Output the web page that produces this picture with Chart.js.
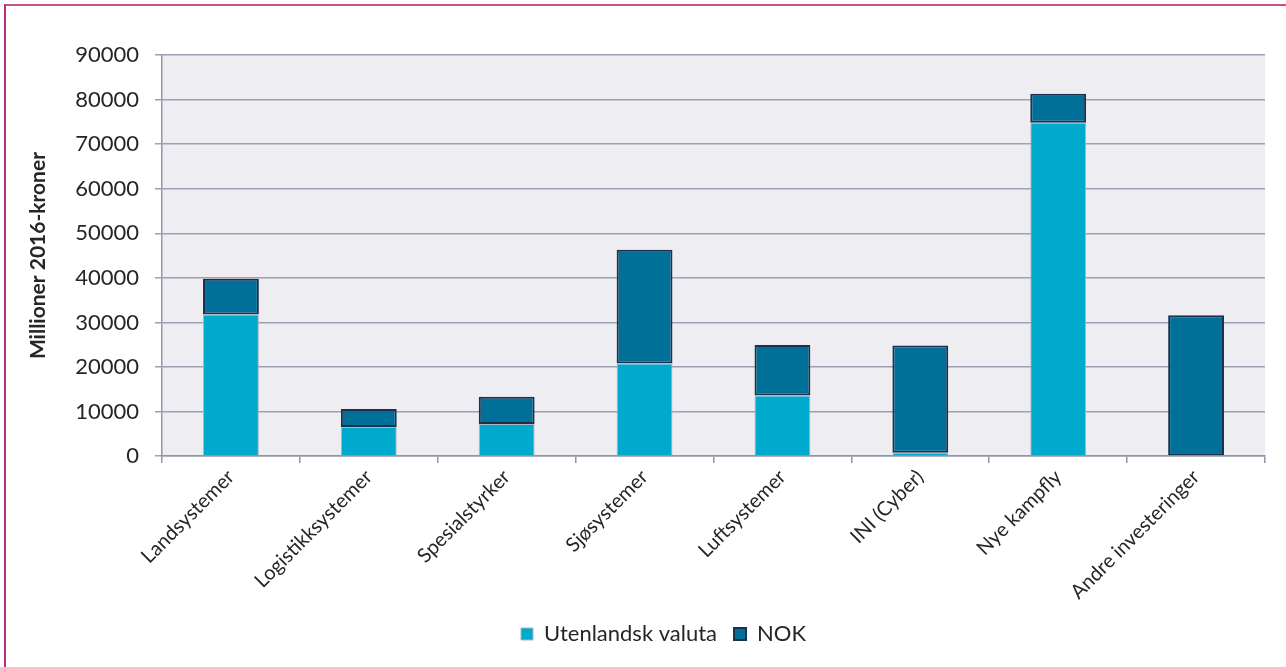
<!DOCTYPE html>
<html>
<head>
<meta charset="utf-8">
<script src="https://cdn.jsdelivr.net/npm/chart.js@4.4.1/dist/chart.umd.min.js"></script>
<style>
  body { margin: 0; background: #fff; }
  #wrap { position: relative; width: 1286px; height: 667px; }
  #frame {
    position: absolute; left: 4px; top: 4px; right: 0; bottom: 0;
    border-top: 2px solid #c8508a; border-left: 2px solid #b8307a;
    pointer-events: none;
  }
</style>
</head>
<body>
<div id="wrap">
  <canvas id="chart"></canvas>
  <div id="frame"></div>
</div>
<script>
const kategorier = ["Landsystemer", "Logistikksystemer", "Spesialstyrker", "Sjøsystemer",
  "Luftsystemer", "INI (Cyber)", "Nye kampfly", "Andre investeringer"];
const utenlandskValuta = [31760, 6550, 7200, 20790, 13580, 740, 74800, 0];
const nok = [8040, 4040, 6140, 25540, 11350, 24100, 6500, 31600];
const yTicks = [0, 10000, 20000, 30000, 40000, 50000, 60000, 70000, 80000, 90000];

const tekstFarge = "#262626";
const font = { family: "Lato", size: 20 };
const stortFont = { family: "Lato", size: 22 };

// grå bakgrunn i selve plottområdet
const plotBakgrunn = {
  id: "plotBakgrunn",
  beforeDraw(chart) {
    const { ctx, chartArea: a } = chart;
    ctx.save();
    ctx.fillStyle = "#eeedf2";
    ctx.fillRect(a.left, a.top, a.right - a.left, a.bottom - a.top);
    ctx.restore();
  }
};

// flytt forklaringen litt mot høyre
const flyttLegend = {
  id: "flyttLegend",
  afterLayout(chart) {
    chart.legend.left += 18;
    chart.legend.right += 18;
  }
};

new Chart(document.getElementById("chart"), {
  type: "bar",
  data: {
    labels: kategorier,
    datasets: [
      {
        label: "Utenlandsk valuta",
        data: utenlandskValuta,
        backgroundColor: "#00aacc",
        borderColor: "#a9b6c6",
        borderWidth: 1,
        stack: "s"
      },
      {
        label: "NOK",
        data: nok,
        backgroundColor: "#007098",
        borderColor: "#1d2f4f",
        borderWidth: 2,
        borderSkipped: false,
        stack: "s"
      }
    ]
  },
  options: {
    responsive: true,
    maintainAspectRatio: false,
    animation: false,
    layout: { padding: { top: 55, right: 21, left: 26, bottom: 12 } },
    datasets: { bar: { barPercentage: 0.405, categoryPercentage: 1 } },
    plugins: {
      tooltip: { enabled: false },
      legend: {
        position: "bottom",
        labels: {
          color: tekstFarge,
          font: stortFont,
          boxWidth: 12,
          boxHeight: 12,
          padding: 17
        }
      }
    },
    scales: {
      x: {
        stacked: true,
        grid: { drawOnChartArea: false, color: "#8f96a8", lineWidth: 1.5, tickLength: 7, offset: true },
        border: { color: "#8f96a8", width: 1.5 },
        ticks: { color: tekstFarge, font: font, maxRotation: 45, minRotation: 45, padding: 2 }
      },
      y: {
        stacked: true,
        min: 0,
        max: 90000,
        afterBuildTicks(axis) { axis.ticks = yTicks.map(v => ({ value: v })); },
        grid: { color: "#9ca1b2", lineWidth: 1.5, tickLength: 7 },
        border: { color: "#8f96a8", width: 1.5 },
        ticks: { color: tekstFarge, font: stortFont, padding: 16, callback: v => String(v) },
        title: {
          display: true,
          text: "Millioner 2016-kroner",
          color: tekstFarge,
          font: { family: "Lato", size: 21, weight: "bold" },
          padding: { top: 0, bottom: 8 }
        }
      }
    }
  },
  plugins: [plotBakgrunn, flyttLegend]
});
</script>
</body>
</html>
